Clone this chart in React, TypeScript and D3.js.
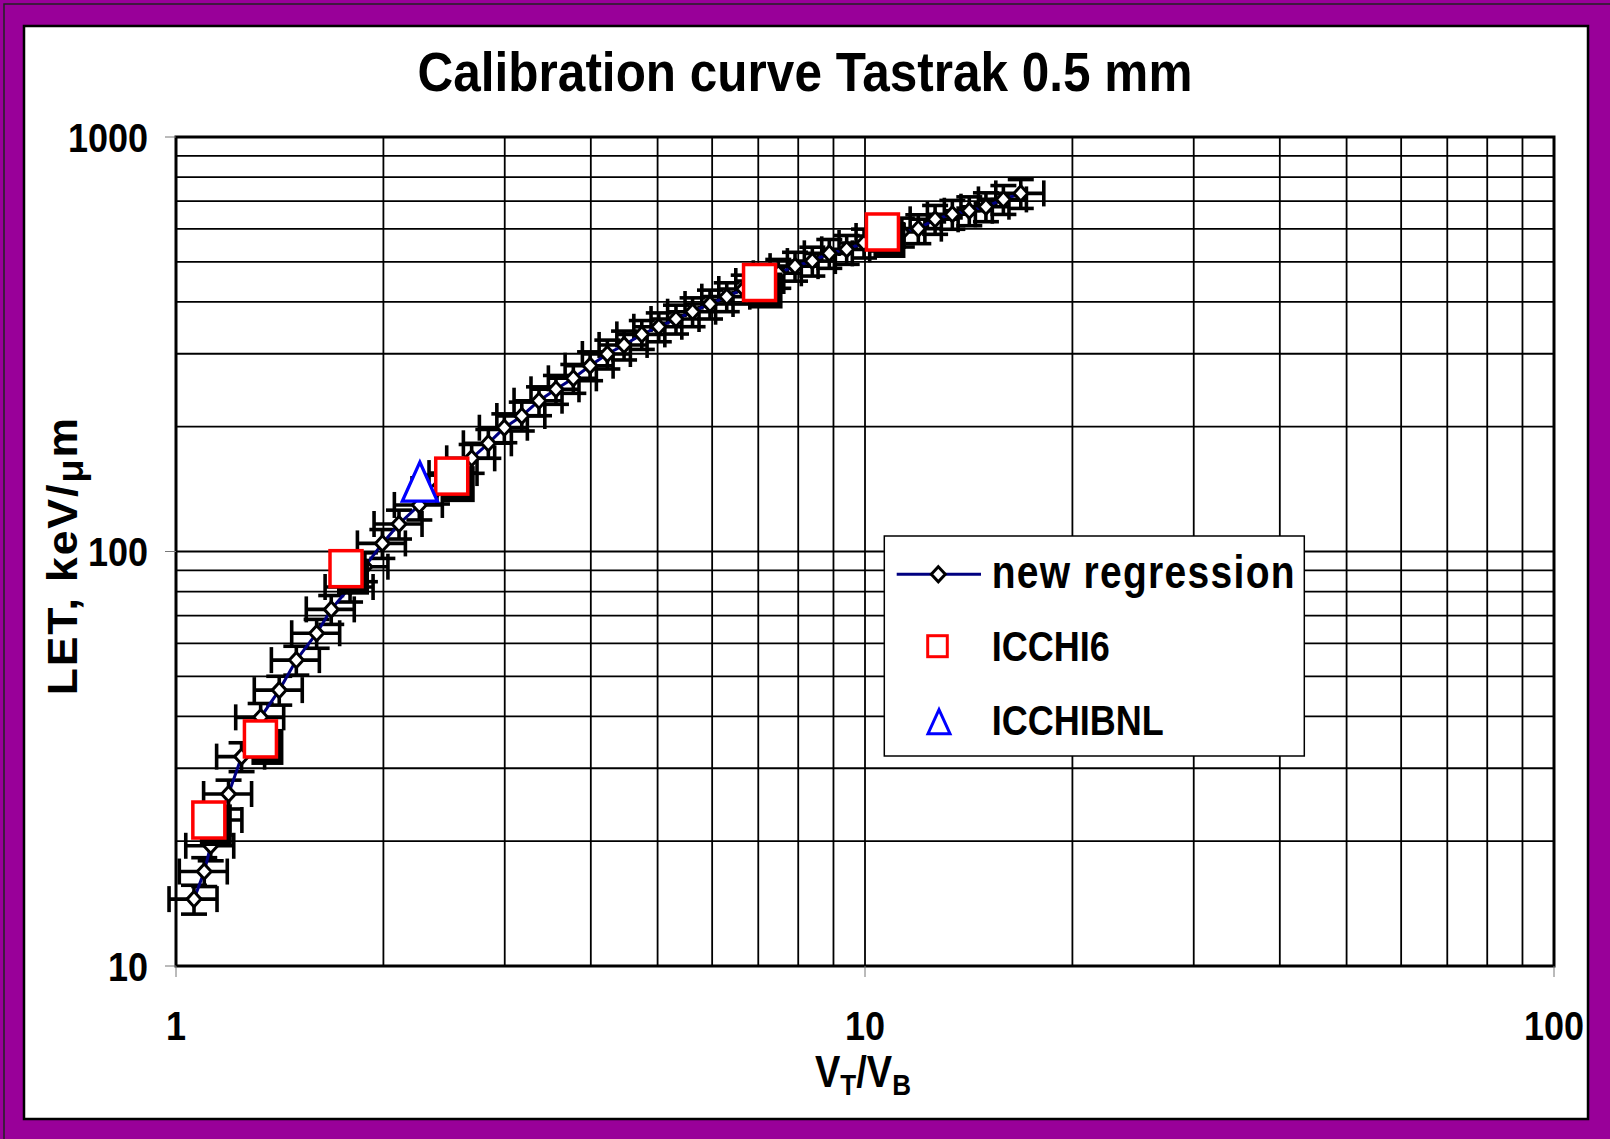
import React from "react";
import * as d3 from "d3";

// ---- data ----
const regressionX = [1.062, 1.099, 1.123, 1.154, 1.192, 1.245, 1.327, 1.412, 1.495, 1.6, 1.68, 1.789, 1.88, 1.993, 2.107, 2.255, 2.392, 2.532, 2.686, 2.84, 2.996, 3.176, 3.364, 3.56, 3.773, 3.99, 4.227, 4.47, 4.743, 5.02, 5.317, 5.62, 5.957, 6.3, 6.668, 7.058, 7.484, 7.915, 8.386, 8.875, 9.406, 9.967, 10.55, 11.31, 11.95, 12.64, 13.39, 14.17, 14.98, 15.88, 16.83];
const regressionY = [14.5, 16.9, 19.5, 22.5, 26.0, 32.0, 39.8, 46.3, 54.7, 63.5, 72.5, 82.1, 91.9, 104.6, 116.5, 129.5, 141.5, 154.6, 167.8, 182.4, 198.9, 212.3, 231.1, 246.2, 261.7, 280.7, 299.6, 315, 334, 348.5, 363.8, 378.9, 395.5, 411.9, 429.8, 449.3, 469, 488, 502, 524, 535.8, 555, 577, 590, 601, 633, 651, 664, 679, 707, 731];
const icchi6X = [1.116, 1.326, 1.765, 2.513, 7.03, 10.6];
const icchi6Y = [22.5, 35.3, 90.9, 152, 445.6, 590];
const icchibnlX = [2.259];
const icchibnlY = [147.4];
const errorFraction = 0.08;

const xTicks = [1, 10, 100];
const yTicks = [10, 100, 1000];
const xGrid = [2, 3, 4, 5, 6, 7, 8, 9, 10, 20, 30, 40, 50, 60, 70, 80, 90];
const yGrid = [20, 30, 40, 50, 60, 70, 80, 90, 100, 200, 300, 400, 500, 600, 700, 800, 900];

const legendLabels = ["new regression", "ICCHI6", "ICCHIBNL"];
const title = "Calibration curve Tastrak 0.5 mm";

const W = 1610;
const H = 1139;
const L = 176, R = 1554, T = 137, B = 966;
const FONT = "'Liberation Sans', Arial, Helvetica, sans-serif";
const PURPLE = "#990099";
const SY = 1.14;

const x = d3.scaleLog().domain([1, 100]).range([L, R]);
const y = d3.scaleLog().domain([10, 1000]).range([B, T]);

function Txt(props: { x: number; y: number; size: number; anchor?: string; sy?: number; children: any; ls?: number }) {
  const s = props.sy ?? SY;
  return (
    <text
      transform={`translate(${props.x},${props.y}) scale(1,${s})`}
      fontFamily={FONT}
      fontWeight="bold"
      fontSize={props.size}
      textAnchor={props.anchor ?? "start"}
      letterSpacing={props.ls ?? 0}
      fill="#000"
    >
      {props.children}
    </text>
  );
}

function diamondPath(cx: number, cy: number, r: number) {
  return `M${cx},${cy - r * 1.08}L${cx + r},${cy}L${cx},${cy + r * 1.08}L${cx - r},${cy}Z`;
}
function trianglePath(cx: number, cy: number, w: number, h: number) {
  return `M${cx},${cy - h / 2}L${cx + w / 2},${cy + h / 2}L${cx - w / 2},${cy + h / 2}Z`;
}

export default function App() {
  const pts = regressionX.map((v, i) => ({ x: v, y: regressionY[i] }));
  const sq = icchi6X.map((v, i) => ({ x: v, y: icchi6Y[i] }));
  const tri = icchibnlX.map((v, i) => ({ x: v, y: icchibnlY[i] }));
  const line = d3.line<{ x: number; y: number }>().x((d) => x(d.x)).y((d) => y(d.y));
  const cap = 13;
  const sqW = 32, sqH = 36;

  return (
    <div style={{ position: "absolute", left: 0, top: 0, width: W, height: H }}>
      <svg width={W} height={H} style={{ display: "block" }}>
        {/* frame */}
        <rect x={0} y={0} width={W} height={H} fill={PURPLE} />
        <rect x={4} y={4} width={W + 10} height={H + 10} fill="none" stroke="#222" strokeWidth={1.5} />
        <rect x={24} y={26} width={1564} height={1093} fill="#fff" stroke="#000" strokeWidth={2.5} />

        {/* title */}
        <Txt x={805} y={91} size={49.5} anchor="middle" sy={1.12}>{title}</Txt>

        {/* gridlines */}
        {xGrid.map((g) => (
          <line key={"gx" + g} x1={x(g)} x2={x(g)} y1={T} y2={B} stroke="#000" strokeWidth={1.8} />
        ))}
        {yGrid.map((g) => (
          <line key={"gy" + g} x1={L} x2={R} y1={y(g)} y2={y(g)} stroke="#000" strokeWidth={1.8} />
        ))}
        <rect x={L} y={T} width={R - L} height={B - T} fill="none" stroke="#000" strokeWidth={3} />

        {/* ticks */}
        {yTicks.map((t) => (
          <g key={"yt" + t}>
            <line x1={L - 11} x2={L} y1={y(t)} y2={y(t)} stroke="#777" strokeWidth={1} />
            <Txt x={148} y={y(t) + 14.5} size={36} anchor="end">{String(t)}</Txt>
          </g>
        ))}
        {xTicks.map((t) => (
          <g key={"xt" + t}>
            <line x1={x(t)} x2={x(t)} y1={B} y2={B + 11} stroke="#777" strokeWidth={1} />
            <Txt x={x(t)} y={1040} size={36} anchor="middle">{String(t)}</Txt>
          </g>
        ))}

        {/* axis titles */}
        <text
          transform={`translate(815,1086.7) scale(1,1.16)`}
          fontFamily={FONT}
          fontWeight="bold"
          fontSize={38}
          fill="#000"
        >
          <tspan>V</tspan>
          <tspan fontSize={26} dy={6.9}>T</tspan>
          <tspan dy={-6.9}>/V</tspan>
          <tspan fontSize={26} dy={6.9}>B</tspan>
        </text>
        <text
          transform={`translate(76.7,555.7) rotate(-90) scale(1.06,1)`}
          fontFamily={FONT}
          fontWeight="bold"
          fontSize={42}
          textAnchor="middle"
          letterSpacing={1.8}
          fill="#000"
        >
          <tspan>LET, keV/</tspan>
          <tspan fontSize={36} dy={6}>μ</tspan>
          <tspan dy={-6}>m</tspan>
        </text>

        {/* error bars */}
        <g stroke="#000" strokeWidth={3.6} fill="none">
          {pts.map((p, i) => {
            const cx = x(p.x), cy = y(p.y);
            const x0 = x(p.x * (1 - errorFraction)), x1 = x(p.x * (1 + errorFraction));
            const y0 = y(p.y * (1 - errorFraction)), y1 = y(p.y * (1 + errorFraction));
            return (
              <g key={"eb" + i}>
                <line x1={x0} x2={x1} y1={cy} y2={cy} />
                <line x1={x0} x2={x0} y1={cy - cap} y2={cy + cap} />
                <line x1={x1} x2={x1} y1={cy - cap} y2={cy + cap} />
                <line x1={cx} x2={cx} y1={y0} y2={y1} />
                <line x1={cx - cap} x2={cx + cap} y1={y0} y2={y0} />
                <line x1={cx - cap} x2={cx + cap} y1={y1} y2={y1} />
              </g>
            );
          })}
        </g>

        {/* regression line */}
        <path d={line(pts) || ""} fill="none" stroke="#000080" strokeWidth={3} />
        {pts.map((p, i) => (
          <path key={"dm" + i} d={diamondPath(x(p.x), y(p.y), 7)} fill="#fff" stroke="#000" strokeWidth={3} />
        ))}

        {/* ICCHI6 squares with shadow */}
        {sq.map((p, i) => (
          <rect key={"sh" + i} x={x(p.x) - sqW / 2 + 7} y={y(p.y) - sqH / 2 + 8} width={sqW} height={sqH} fill="#000" />
        ))}
        {sq.map((p, i) => (
          <rect key={"sq" + i} x={x(p.x) - sqW / 2} y={y(p.y) - sqH / 2} width={sqW} height={sqH} fill="#fff" stroke="#ff0000" strokeWidth={3.5} />
        ))}

        {/* ICCHIBNL triangle */}
        {tri.map((p, i) => (
          <path key={"tr" + i} d={trianglePath(x(p.x), y(p.y), 35, 39)} fill="#fff" stroke="#0000ff" strokeWidth={3.3} strokeLinejoin="miter" />
        ))}

        {/* legend */}
        <rect x={884.3} y={536} width={420} height={220} fill="#fff" stroke="#000" strokeWidth={1.5} />
        <line x1={896.7} x2={981} y1={574.3} y2={574.3} stroke="#000080" strokeWidth={3} />
        <path d={diamondPath(938.3, 574.3, 7)} fill="#fff" stroke="#000" strokeWidth={3} />
        <Txt x={991.7} y={588.3} size={39} sy={1.2} ls={1.3}>{legendLabels[0]}</Txt>
        <rect x={927.7} y={635.7} width={19.6} height={21} fill="#fff" stroke="#ff0000" strokeWidth={3} />
        <Txt x={991.7} y={660.7} size={36} sy={1.16}>{legendLabels[1]}</Txt>
        <path d={trianglePath(939, 721.7, 22, 24)} fill="#fff" stroke="#0000ff" strokeWidth={3} />
        <Txt x={991.7} y={735} size={36} sy={1.16}>{legendLabels[2]}</Txt>
      </svg>
    </div>
  );
}
